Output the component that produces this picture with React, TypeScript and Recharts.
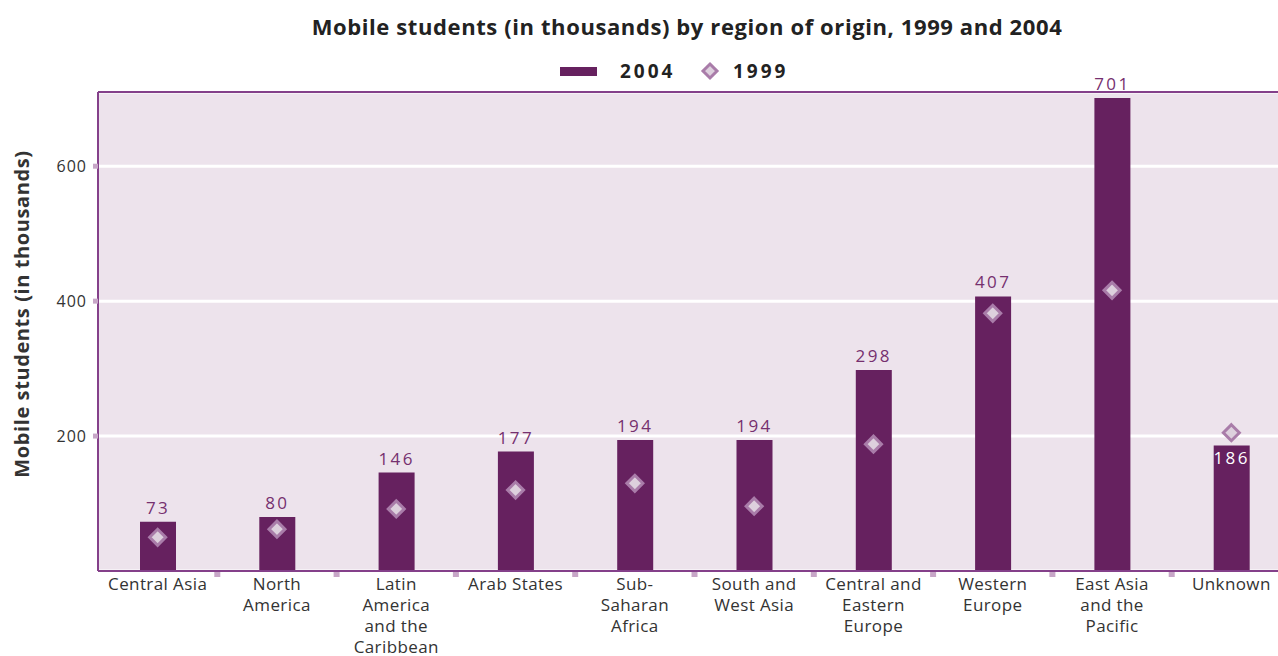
import { ComposedChart, Bar, Line, XAxis, YAxis, CartesianGrid, ReferenceLine, LabelList } from "recharts"

const regions = [
  "Central Asia",
  "North\nAmerica",
  "Latin\nAmerica\nand the\nCaribbean",
  "Arab States",
  "Sub-\nSaharan\nAfrica",
  "South and\nWest Asia",
  "Central and\nEastern\nEurope",
  "Western\nEurope",
  "East Asia\nand the\nPacific",
  "Unknown",
]
const students2004 = [73, 80, 146, 177, 194, 194, 298, 407, 701, 186]
const students1999 = [50, 62, 92, 120, 130, 96, 188, 382, 416, 205]
const yTicks = [200, 400, 600]
const yMax = 710

const data = regions.map((region, i) => ({
  region,
  y2004: students2004[i],
  y1999: students1999[i],
}))

const FONT = "'Open Sans', sans-serif"
const BAR = "#66215f"
const LABEL = "#76306f"
const BORDER = "#84408a"
const TICK = "#c7a6c7"
const DIAMOND_FILL = "#ddd0dd"
const DIAMOND_STROKE = "#a97ca9"

function Diamond({ cx, cy, r = 8 }: { cx: number; cy: number; r?: number }) {
  return (
    <polygon
      points={`${cx},${cy - r} ${cx + r},${cy} ${cx},${cy + r} ${cx - r},${cy}`}
      fill={DIAMOND_FILL}
      stroke={DIAMOND_STROKE}
      strokeWidth={3}
    />
  )
}

function RegionTick(props: any) {
  const { x, y, payload } = props
  const lines = String(payload.value).split("\n")
  const half = payload.offset ?? 59.6
  return (
    <g>
      <rect x={x + half - 3} y={y + 1} width={6} height={5} fill={TICK} />
      <text x={x} y={y + 19} textAnchor="middle" fill="#333" fontSize={17} fontFamily={FONT} letterSpacing={0.4}>
        {lines.map((l, i) => (
          <tspan key={i} x={x} dy={i === 0 ? 0 : 21}>
            {l}
          </tspan>
        ))}
      </text>
    </g>
  )
}

function ValueLabel(props: any) {
  const { x, y, width, value, index } = props
  const inside = students1999[index] > students2004[index]
  return (
    <text
      x={x + width / 2}
      y={inside ? y + 18 : y - 8}
      textAnchor="middle"
      fill={inside ? "#fff" : LABEL}
      fontSize={17}
      fontFamily={FONT}
      letterSpacing={2.4}
    >
      {value}
    </text>
  )
}

export default function App() {
  return (
    <div style={{ position: "absolute", left: 0, top: 0, width: 1278, height: 656, overflow: "hidden", background: "#fff" }}>
      <svg width={1278} height={100} style={{ position: "absolute", left: 0, top: 0 }}>
        <text x={687} y={35} textAnchor="middle" fontSize={22} fontWeight={700} fill="#222" fontFamily={FONT} letterSpacing={0.6}>
          Mobile students (in thousands) by region of origin, 1999 and 2004
        </text>
        <rect x={560} y={67} width={37} height={9} fill={BAR} />
        <text x={620} y={78} fontSize={19} fontWeight={700} fill="#222" fontFamily={FONT} letterSpacing={3}>
          2004
        </text>
        <Diamond cx={710} cy={71} r={7} />
        <text x={733} y={78} fontSize={19} fontWeight={700} fill="#222" fontFamily={FONT} letterSpacing={3}>
          1999
        </text>
      </svg>
      <svg width={60} height={656} style={{ position: "absolute", left: 0, top: 0 }}>
        <text
          x={0}
          y={0}
          transform="translate(29,314) rotate(-90)"
          textAnchor="middle"
          fontSize={20}
          fontWeight={700}
          fill="#333"
          fontFamily={FONT}
          letterSpacing={0.6}
        >
          Mobile students (in thousands)
        </text>
      </svg>
      <div style={{ position: "absolute", left: 0, top: 0 }}>
        <ComposedChart
          width={1300}
          height={656}
          data={data}
          margin={{ top: 92, right: 9, left: 58, bottom: 5 }}
          barCategoryGap={0}
          style={{ fontFamily: FONT }}
        >
          <CartesianGrid vertical={false} fill="#ede3ec" stroke="#fff" strokeWidth={3} />
          <XAxis
            dataKey="region"
            interval={0}
            height={80}
            tickSize={0}
            tickMargin={0}
            tickLine={false}
            axisLine={{ stroke: BORDER, strokeWidth: 2 }}
            tick={<RegionTick />}
          />
          <YAxis
            width={40}
            domain={[0, yMax]}
            ticks={yTicks}
            tickSize={5}
            tickMargin={6}
            tickLine={{ stroke: TICK, strokeWidth: 5 }}
            axisLine={{ stroke: BORDER, strokeWidth: 2 }}
            tick={{ fill: "#333", fontSize: 16, letterSpacing: 1, fontFamily: FONT }}
          />
          <ReferenceLine y={yMax} stroke={BORDER} strokeWidth={2} />
          <Bar dataKey="y2004" fill={BAR} barSize={36} isAnimationActive={false}>
            <LabelList dataKey="y2004" content={<ValueLabel />} />
          </Bar>
          <Line
            dataKey="y1999"
            stroke="none"
            isAnimationActive={false}
            activeDot={false}
            dot={(p: any) => <Diamond key={p.index} cx={p.cx} cy={p.cy} />}
          />
        </ComposedChart>
      </div>
    </div>
  )
}
